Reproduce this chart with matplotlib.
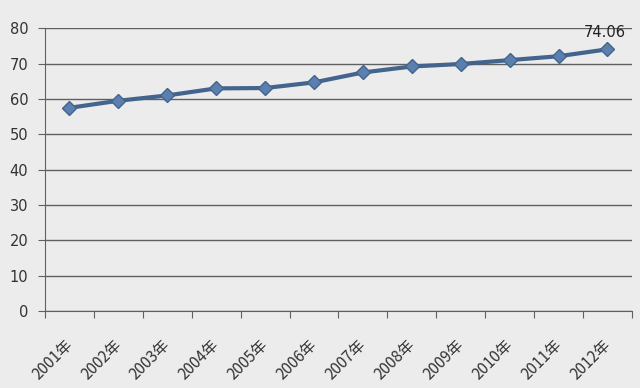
import matplotlib
matplotlib.use("Agg")
import matplotlib.pyplot as plt
import matplotlib.transforms as mtransforms
import numpy as np

years = ["2001年", "2002年", "2003年", "2004年", "2005年", "2006年",
         "2007年", "2008年", "2009年", "2010年", "2011年", "2012年"]
values = [57.5, 59.5, 61.0, 63.0, 63.1, 64.7, 67.5, 69.2, 69.9, 71.0, 72.1, 74.06]
yticks = [0, 10, 20, 30, 40, 50, 60, 70, 80]

plt.rcParams['font.family'] = ['Noto Sans CJK SC', 'DejaVu Sans']

bg = "#ececec"
fig = plt.figure(figsize=(6.4, 3.88), dpi=100, facecolor=bg)
ax = fig.add_axes([0.0703, 0.1985, 0.917, 0.7285], facecolor=bg)

x = np.arange(len(years))
ax.plot(x, values, color="#43648d", lw=3, marker="D", markersize=7.5,
        markerfacecolor="#5b7fae", markeredgecolor="#43648d", markeredgewidth=1, zorder=3)
ax.annotate(f"{values[-1]:.2f}", (x[-1], values[-1]), xytext=(-2, 7),
            textcoords="offset points", ha="center", va="bottom", fontsize=10.5,
            color="#222222", family="DejaVu Sans")

ax.set_xlim(-0.5, len(years) - 0.5)
ax.set_ylim(0, 80)
ax.set_yticks(yticks)
ax.set_yticklabels([str(v) for v in yticks], fontsize=10.5, color="#333333", family="DejaVu Sans")
ax.yaxis.grid(True, color="#606060", lw=1)
ax.set_axisbelow(True)

ax.set_xticks(np.arange(len(years) + 1) - 0.5)
ax.set_xticklabels([])
ax.set_xticks(x, minor=True)
ax.set_xticklabels(years, minor=True, rotation=45, ha="right", rotation_mode="anchor",
                   fontsize=11, color="#333333")
ax.tick_params(axis="x", which="minor", length=0, pad=18)
ax.tick_params(axis="x", which="major", length=5, color="#606060", direction="out")
ax.tick_params(axis="y", length=5, color="#606060", pad=7)
offset = mtransforms.ScaledTranslation(-4 / 72, 0, fig.dpi_scale_trans)
for lbl in ax.get_xticklabels(minor=True):
    lbl.set_transform(lbl.get_transform() + offset)

for s in ["top", "right"]:
    ax.spines[s].set_visible(False)
for s in ["left", "bottom"]:
    ax.spines[s].set_color("#606060")

fig.savefig("out.png", dpi=100, facecolor=bg)
